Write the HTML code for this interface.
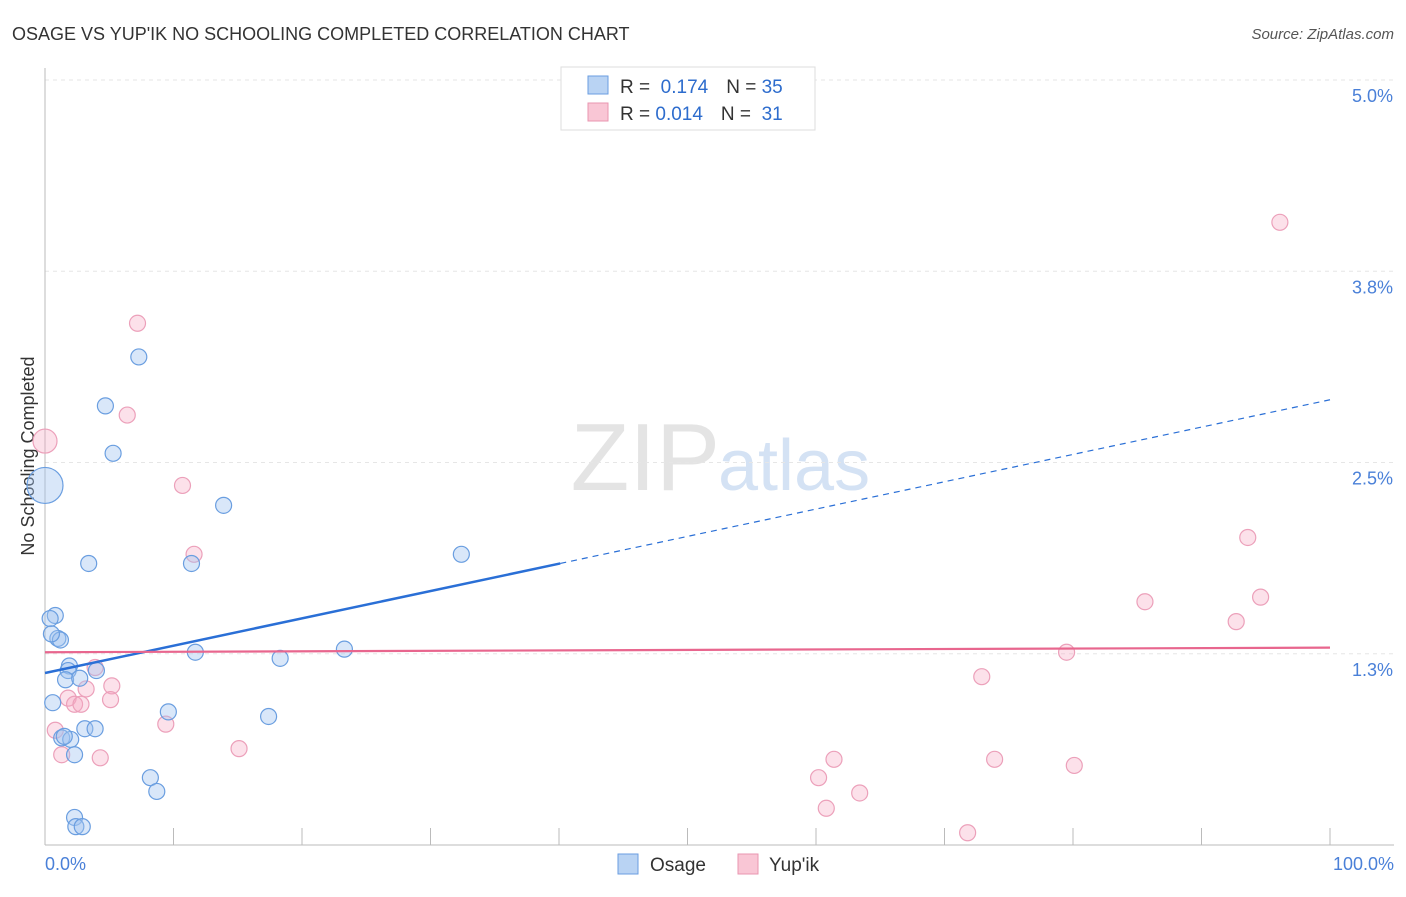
<!DOCTYPE html>
<html><head><meta charset="utf-8"><style>
body{margin:0;background:#fff;font-family:"Liberation Sans",sans-serif;}
svg text{font-family:"Liberation Sans",sans-serif;}
</style></head><body>
<svg id="c" width="1406" height="892">
<text x="12" y="40" font-size="18" fill="#333">OSAGE VS YUP'IK NO SCHOOLING COMPLETED CORRELATION CHART</text>
<text x="1394" y="39" font-size="15" fill="#555" text-anchor="end" font-style="italic">Source: ZipAtlas.com</text>
<text x="720" y="490" font-size="96" fill="#e4e4e4" text-anchor="end" font-family="Liberation Serif">ZIP</text>
<text x="718" y="490" font-size="72" fill="#d4e2f4">atlas</text>
<text transform="translate(34,456) rotate(-90)" font-size="18" fill="#333" text-anchor="middle">No Schooling Completed</text>
<g id="grid"></g><g id="pts"></g><g id="lines"></g>
<g>
<rect x="561" y="67" width="254" height="63" fill="#fff" stroke="#ddd"/>
<rect x="588" y="76" width="20" height="18" fill="#b9d3f3" stroke="#6a9ee0"/>
<rect x="588" y="103" width="20" height="18" fill="#f9c6d5" stroke="#e996b0"/>
<text x="620" y="93" font-size="19" fill="#333">R = <tspan fill="#2d6ccd">&#160;0.174</tspan><tspan dx="18">N = </tspan><tspan fill="#2d6ccd">35</tspan></text>
<text x="620" y="120" font-size="19" fill="#333">R = <tspan fill="#2d6ccd">0.014</tspan><tspan dx="18">N = </tspan><tspan fill="#2d6ccd">&#160;31</tspan></text>
</g>
<g>
<rect x="618" y="854" width="20" height="20" fill="#b9d3f3" stroke="#6a9ee0"/>
<text x="650" y="871" font-size="19" fill="#333">Osage</text>
<rect x="738" y="854" width="20" height="20" fill="#f9c6d5" stroke="#e996b0"/>
<text x="769" y="871" font-size="19" fill="#333">Yup'ik</text>
</g>
<text x="45" y="870" font-size="18" fill="#4a80d8">0.0%</text>
<text x="1394" y="870" font-size="18" fill="#4a80d8" text-anchor="end">100.0%</text>
</svg>
<script>
const osageX=[0,4.7,7.3,5.3,13.9,3.4,11.4,32.4,0.8,0.4,1.0,1.2,11.7,18.3,23.3,1.9,1.8,4.0,1.6,2.7,0.6,9.6,17.4,3.1,3.9,1.3,2.0,2.3,8.2,8.7,2.3,2.4,2.9,0.5,1.5];
const osageY=[2.35,2.87,3.19,2.56,2.22,1.84,1.84,1.90,1.50,1.48,1.35,1.34,1.26,1.22,1.28,1.17,1.14,1.14,1.08,1.09,0.93,0.87,0.84,0.76,0.76,0.70,0.69,0.59,0.44,0.35,0.18,0.12,0.12,1.38,0.71];
const yupikX=[0,7.2,6.4,10.7,11.6,96.1,93.6,94.6,85.6,92.7,79.5,72.9,3.9,1.8,3.2,5.2,5.1,2.3,2.8,0.8,1.3,4.3,9.4,15.1,61.4,73.9,80.1,60.2,63.4,60.8,71.8];
const yupikY=[2.64,3.41,2.81,2.35,1.90,4.07,2.01,1.62,1.59,1.46,1.26,1.10,1.16,0.96,1.02,1.04,0.95,0.92,0.92,0.75,0.59,0.57,0.79,0.63,0.56,0.56,0.52,0.44,0.34,0.24,0.08];
const yTicks=[1.25,2.5,3.75,5.0];
const yTickLabels=["1.3%","2.5%","3.8%","5.0%"];
const osageTrend=[1.124,2.91];
const yupikTrend=[1.26,1.29];
const NS="http://www.w3.org/2000/svg";
const X=v=>45+v*12.85, Y=v=>845-v*153;
function mk(t,a,p){const e=document.createElementNS(NS,t);for(const k in a)e.setAttribute(k,a[k]);p.appendChild(e);return e;}
const g=document.getElementById('grid');
yTicks.forEach((t,i)=>{
 const l=mk('line',{x1:45,x2:1394,y1:Y(t),y2:Y(t),stroke:'#e6e6e6','stroke-dasharray':'4,4'},g);
 
 
 const tx=mk('text',{x:1393,y:Y(t)+22,'font-size':18,fill:'#4a80d8','text-anchor':'end'},g);
 tx.textContent=yTickLabels[i];
 
 
});
const ax=mk('line',{x1:45,x2:45,y1:68,y2:845,stroke:'#bbb'},g);


const bx=mk('line',{x1:45,x2:1394,y1:845,y2:845,stroke:'#bbb'},g);


for(let i=1;i<=10;i++){const t=mk('line',{x1:X(i*10),x2:X(i*10),y1:828,y2:845,stroke:'#bbb'},g);
 
 }
const p=document.getElementById('pts');
yupikX.forEach((x,i)=>{const c=mk('circle',{cx:X(x),cy:Y(yupikY[i]),r:i==0?12:8,fill:'rgba(246,170,195,0.35)',stroke:'#eca0ba','stroke-width':1.2},p);
 
 });
osageX.forEach((x,i)=>{const c=mk('circle',{cx:X(x),cy:Y(osageY[i]),r:i==0?18:8,fill:'rgba(160,196,240,0.4)',stroke:'#6a9ee0','stroke-width':1.2},p);
 
 });
const L=document.getElementById('lines');
const ty=x=>osageTrend[0]+(osageTrend[1]-osageTrend[0])*x/100;
let a=mk('line',{x1:X(0),y1:Y(ty(0)),x2:X(40.1),y2:Y(ty(40.1)),stroke:'#2a6fd6','stroke-width':2.5},L);


a=mk('line',{x1:X(40.1),y1:Y(ty(40.1)),x2:X(100),y2:Y(ty(100)),stroke:'#2a6fd6','stroke-width':1.2,'stroke-dasharray':'6,5'},L);


a=mk('line',{x1:X(0),y1:Y(yupikTrend[0]),x2:X(100),y2:Y(yupikTrend[1]),stroke:'#e8668e','stroke-width':2.2},L);


</script>
</body></html>
